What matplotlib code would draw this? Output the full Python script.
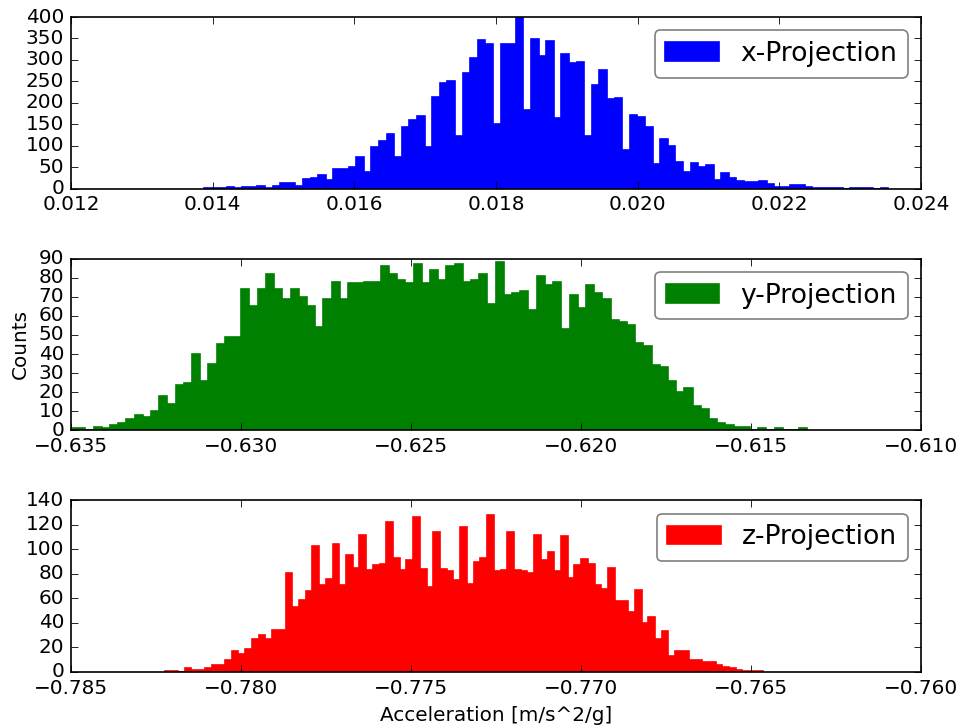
import numpy as np
import matplotlib
matplotlib.use('Agg')
import matplotlib.pyplot as plt

plt.style.use('classic')
plt.rcParams['figure.facecolor'] = 'white'
plt.rcParams['savefig.facecolor'] = 'white'

# x-Projection: histogram bins (start, width) and counts
x_start = 0.013879
x_width = 0.00010734
x_counts = [1, 2, 2, 4, 2, 4, 3, 6, 2, 6,
            13, 14, 7, 22, 24, 31, 21, 45, 47, 50,
            75, 40, 97, 112, 128, 75, 143, 160, 170, 97,
            213, 246, 252, 122, 269, 305, 346, 336, 150, 337,
            337, 398, 184, 349, 309, 344, 164, 315, 292, 296,
            122, 242, 277, 208, 211, 91, 172, 167, 143, 58,
            115, 100, 63, 40, 61, 50, 55, 21, 36, 25,
            17, 15, 15, 17, 12, 5, 5, 8, 8, 3,
            2, 1, 1, 1, 0, 1, 1, 1, 0, 1]

# y-Projection
y_start = -0.63506
y_width = 0.00024135
y_counts = [1, 1, 0, 2, 1, 3, 4, 6, 8, 7,
            10, 18, 14, 24, 25, 40, 26, 35, 45, 49,
            49, 74, 65, 74, 82, 74, 69, 74, 70, 65,
            54, 69, 78, 69, 77, 77, 78, 78, 86, 82,
            79, 77, 87, 77, 84, 79, 86, 87, 78, 79,
            82, 66, 88, 71, 72, 73, 63, 81, 76, 78,
            53, 71, 64, 76, 72, 69, 58, 57, 55, 46,
            44, 34, 33, 26, 20, 22, 13, 11, 6, 4,
            3, 2, 2, 0, 1, 0, 1, 0, 0, 1]

# z-Projection
z_start = -0.782247
z_width = 0.0001976
z_counts = [1, 1, 0, 3, 2, 2, 3, 6, 6, 10,
            17, 15, 19, 27, 30, 27, 34, 34, 81, 53,
            59, 66, 103, 71, 76, 104, 71, 95, 85, 112,
            83, 87, 88, 122, 93, 83, 91, 126, 84, 69,
            114, 84, 82, 75, 118, 72, 90, 93, 128, 82,
            83, 114, 83, 82, 81, 112, 91, 98, 82, 111,
            77, 87, 92, 88, 71, 68, 85, 58, 58, 49,
            67, 40, 45, 27, 33, 13, 17, 17, 10, 10,
            8, 8, 6, 4, 3, 2, 1, 1, 1]

labels = ['x-Projection', 'y-Projection', 'z-Projection']
colors = ['b', 'g', 'r']
x_ticks = [np.arange(0.012, 0.0241, 0.002),
           np.arange(-0.635, -0.6099, 0.005),
           np.arange(-0.785, -0.7599, 0.005)]
y_ticks = [np.arange(0, 401, 50), np.arange(0, 91, 10), np.arange(0, 141, 20)]

series = [(x_start, x_width, x_counts),
          (y_start, y_width, y_counts),
          (z_start, z_width, z_counts)]

fig, axes = plt.subplots(3, 1, figsize=(963 / 120, 727 / 120), dpi=120)
fig.subplots_adjust(left=0.0737, right=0.9564, top=0.9766, bottom=0.0757, hspace=0.407)

for ax, (start, width, counts), lab, c, xt, yt in zip(axes, series, labels, colors, x_ticks, y_ticks):
    counts = np.array(counts, dtype=float)
    edges = start + width * np.arange(len(counts) + 1)
    centers = 0.5 * (edges[:-1] + edges[1:])
    ax.hist(centers, bins=edges, weights=counts, histtype='stepfilled',
            color=c, edgecolor=c, linewidth=1, label=lab)
    ax.set_xlim(xt[0], xt[-1])
    ax.set_ylim(yt[0], yt[-1])
    ax.set_xticks(xt)
    ax.set_yticks(yt)
    ax.ticklabel_format(axis='x', useOffset=False)
    leg = ax.legend(loc='upper right', fontsize=16, fancybox=True)
    leg.get_frame().set_edgecolor('0.5')

axes[1].set_ylabel('Counts')
axes[2].set_xlabel('Acceleration [m/s^2/g]')

fig.savefig('out.png', dpi=120)
